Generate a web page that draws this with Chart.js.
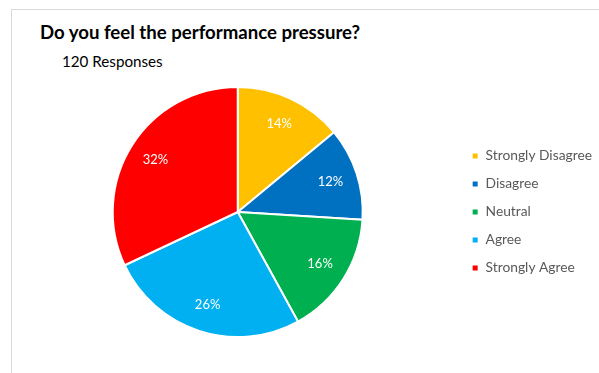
<!DOCTYPE html>
<html>
<head>
<meta charset="utf-8">
<script src="https://cdn.jsdelivr.net/npm/chart.js@4.4.0/dist/chart.umd.min.js"></script>
<style>
    html, body { margin: 0; padding: 0; background: #fff; overflow: hidden; }
    #wrap { position: relative; width: 599px; height: 373px; overflow: hidden; }
    #frame { position: absolute; left: 11px; top: 9px; right: 0; bottom: 0;
             border-left: 1px solid #d9d9d9; border-top: 1px solid #d9d9d9; }
    #title { position: absolute; left: 40px; top: 21px; font: bold 18.6px Lato, sans-serif; color: #000; white-space: nowrap; }
    #subtitle { position: absolute; left: 62px; top: 52px; font: 15.2px Lato, sans-serif; color: #000; white-space: nowrap; }
    #pressure-chart { position: absolute; left: 18px; top: 86px; }
</style>
</head>
<body>
<div id="wrap">
    <div id="frame"></div>
    <div id="title">Do you feel the performance pressure?</div>
    <div id="subtitle">120 Responses</div>
    <canvas id="pressure-chart" width="584" height="252"></canvas>
</div>
<script>
const answer_labels = ['Strongly Disagree', 'Disagree', 'Neutral', 'Agree', 'Strongly Agree'];
const answer_share = [14, 12, 16, 26, 32];
const answer_colors = ['#FFC000', '#0070C0', '#00B050', '#00B0F0', '#FF0000'];

// percent labels inside each slice
const slice_labels = {
    id: 'sliceLabels',
    afterDatasetsDraw(chart) {
        const ctx = chart.ctx;
        const meta = chart.getDatasetMeta(0);
        ctx.save();
        ctx.font = '13px Lato, sans-serif';
        ctx.fillStyle = '#ffffff';
        ctx.textAlign = 'center';
        ctx.textBaseline = 'middle';
        meta.data.forEach((arc, i) => {
            const p = arc.getProps(['x', 'y', 'startAngle', 'endAngle', 'outerRadius'], true);
            const mid = (p.startAngle + p.endAngle) / 2;
            const r = p.outerRadius * 0.78;
            ctx.fillText(answer_share[i] + '%', p.x + Math.cos(mid) * r, p.y + Math.sin(mid) * r);
        });
        ctx.restore();
    }
};

const init_pressure_chart = () => {
    const canvas = document.getElementById('pressure-chart');
    new Chart(canvas, {
        type: 'pie',
        data: {
            labels: answer_labels,
            datasets: [{
                data: answer_share,
                backgroundColor: answer_colors,
                borderColor: '#ffffff',
                borderWidth: 2
            }]
        },
        options: {
            responsive: false,
            animation: false,
            layout: { padding: 0 },
            plugins: {
                legend: {
                    position: 'right',
                    align: 'center',
                    labels: {
                        boxWidth: 7,
                        boxHeight: 7,
                        padding: 14.2,
                        color: '#595959',
                        font: { family: 'Lato, sans-serif', size: 13.8 }
                    }
                },
                tooltip: { enabled: false }
            }
        },
        plugins: [slice_labels]
    });
}

init_pressure_chart();
</script>
</body>
</html>
